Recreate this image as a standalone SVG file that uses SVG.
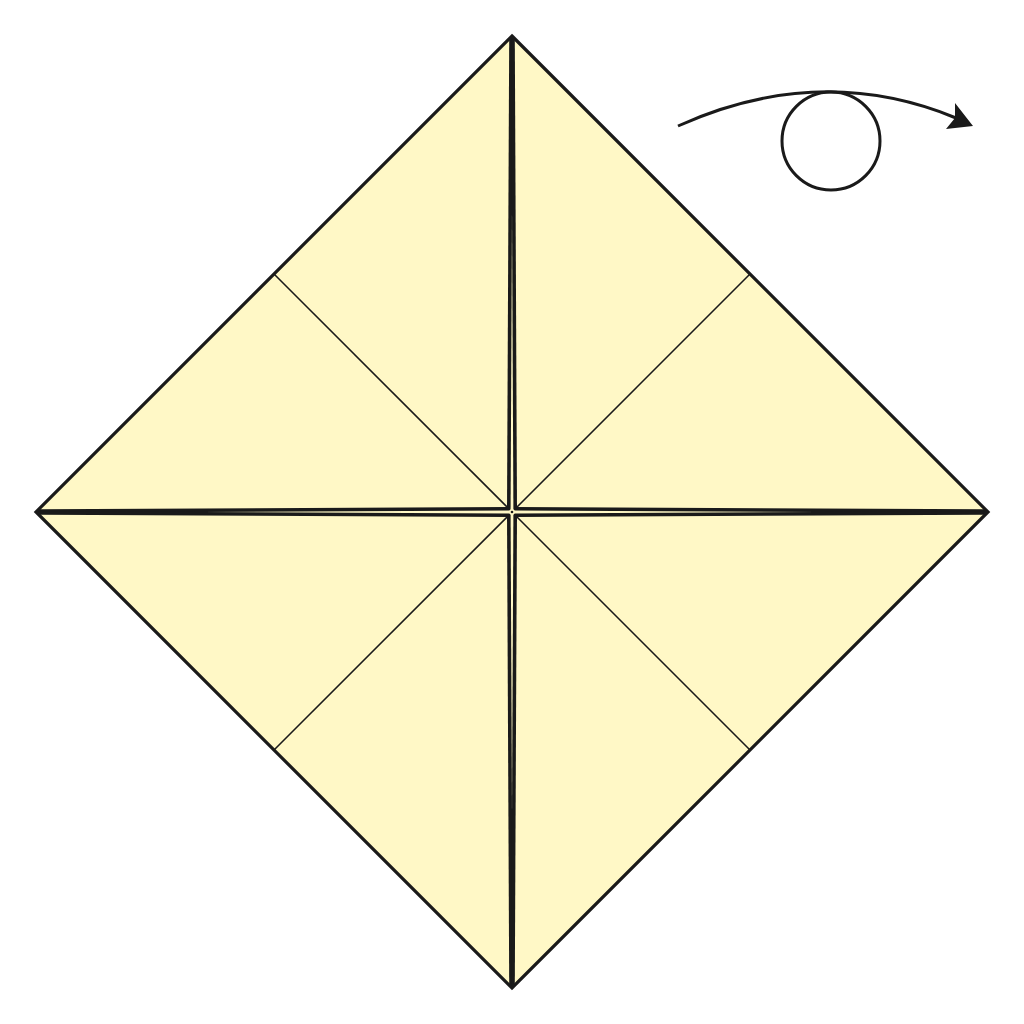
<svg xmlns="http://www.w3.org/2000/svg" width="1024" height="1024" viewBox="0 0 1024 1024">
<style>
.paper{fill:#FFF8C6;stroke:#1a1a1a;stroke-width:3.2;stroke-linejoin:miter}
.crease{stroke:#1a1a1a;stroke-width:1.6;fill:none}
.edge{stroke:#1a1a1a;stroke-width:3.6;fill:none;stroke-linecap:butt}
.arrow{stroke:#1a1a1a;stroke-width:3;fill:none}
</style>
<rect width="1024" height="1024" fill="#ffffff"/>
<g id="paper">
<polygon class="paper" points="512,36 988,512 512,988 36,512"/>
</g>
<g id="creases">
<line class="crease" x1="274" y1="274" x2="510" y2="510"/>
<line class="crease" x1="750" y1="274" x2="514" y2="510"/>
<line class="crease" x1="274" y1="750" x2="510" y2="514"/>
<line class="crease" x1="750" y1="750" x2="514" y2="514"/>
</g>
<g id="center-edges">
<line class="edge" x1="511" y1="38" x2="508.8" y2="509"/>
<line class="edge" x1="513" y1="38" x2="515.2" y2="509"/>
<line class="edge" x1="511" y1="986" x2="508.8" y2="515"/>
<line class="edge" x1="513" y1="986" x2="515.2" y2="515"/>
<line class="edge" x1="38" y1="511" x2="509" y2="508.8"/>
<line class="edge" x1="38" y1="513" x2="509" y2="515.2"/>
<line class="edge" x1="986" y1="511" x2="515" y2="508.8"/>
<line class="edge" x1="986" y1="513" x2="515" y2="515.2"/>
<circle cx="512" cy="512" r="1.3" fill="#1a1a1a"/>
</g>
<g id="turn-over-symbol">
<path class="arrow" d="M678,126 Q820,62 956,118"/>
<polygon points="973,126 955,103 955,118 946,129" fill="#1a1a1a"/>
<circle cx="831" cy="141" r="49" fill="none" stroke="#1a1a1a" stroke-width="3"/>
</g>
</svg>
